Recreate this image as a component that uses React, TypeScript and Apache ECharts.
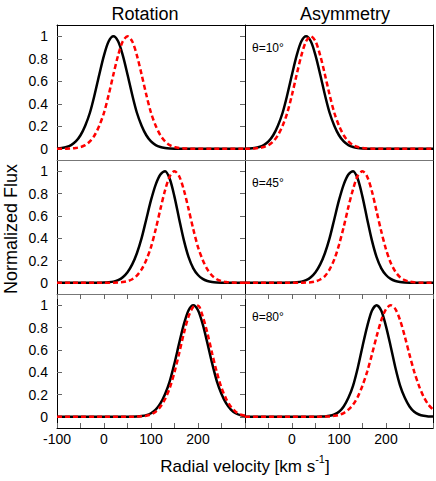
import React, { useEffect, useRef } from "react";
import * as echarts from "echarts";

// Shared velocity grid (km/s)
const velocities = [
  -100, -90, -80, -70, -60, -50, -40, -30, -20, -10, 0, 10, 20, 30, 40, 50, 60, 70, 80, 90,
  100, 110, 120, 130, 140, 150, 160, 170, 180, 190, 200, 210, 220, 230, 240, 250, 260, 270, 280, 290, 300,
];

const columnTitles = ["Rotation", "Asymmetry"];
const angleLabels = ["θ=10°", "θ=45°", "θ=80°"];
const xTickValues = [-100, -50, 0, 50, 100, 150, 200, 250, 300];
const xLabelsLeft = [-100, 0, 100, 200];
const xLabelsRight = [0, 100, 200];
const yTickValues = [0, 0.2, 0.4, 0.6, 0.8, 1];

// Row 1 (θ=10°)
const rot10Black = [
  0.003, 0.007, 0.015, 0.032, 0.065, 0.12, 0.205, 0.32, 0.48, 0.66, 0.83, 0.955, 1, 0.955, 0.83, 0.66, 0.48, 0.32, 0.205, 0.12,
  0.065, 0.032, 0.015, 0.007, 0.003, 0.001, 0, 0, 0, 0, 0, 0, 0, 0, 0, 0, 0, 0, 0, 0, 0,
];
const rot10Red = [
  0, 0, 0.001, 0.003, 0.007, 0.015, 0.032, 0.065, 0.12, 0.205, 0.32, 0.48, 0.66, 0.83, 0.955, 1, 0.955, 0.83, 0.66, 0.48,
  0.32, 0.205, 0.12, 0.065, 0.032, 0.015, 0.007, 0.003, 0.001, 0, 0, 0, 0, 0, 0, 0, 0, 0, 0, 0, 0,
];
const asym10Black = [
  0.001, 0.003, 0.007, 0.015, 0.032, 0.065, 0.12, 0.205, 0.32, 0.48, 0.66, 0.83, 0.955, 1, 0.955, 0.83, 0.66, 0.48, 0.32, 0.205,
  0.12, 0.065, 0.032, 0.015, 0.007, 0.003, 0.001, 0, 0, 0, 0, 0, 0, 0, 0, 0, 0, 0, 0, 0, 0,
];
const asym10Red = [
  0, 0.001, 0.003, 0.007, 0.015, 0.032, 0.065, 0.12, 0.205, 0.32, 0.48, 0.66, 0.83, 0.955, 1, 0.955, 0.83, 0.66, 0.48, 0.32,
  0.205, 0.12, 0.065, 0.032, 0.015, 0.007, 0.003, 0.001, 0, 0, 0, 0, 0, 0, 0, 0, 0, 0, 0, 0, 0,
];

// Row 2 (θ=45°)
const rot45Black = [
  0, 0, 0, 0, 0, 0, 0, 0, 0, 0.001, 0.002, 0.005, 0.011, 0.024, 0.05, 0.095, 0.165, 0.265, 0.4, 0.57,
  0.74, 0.88, 0.97, 1, 0.93, 0.77, 0.57, 0.38, 0.23, 0.13, 0.07, 0.035, 0.016, 0.007, 0.003, 0.001, 0, 0, 0, 0, 0,
];
const rot45Red = [
  0, 0, 0, 0, 0, 0, 0, 0, 0, 0, 0, 0, 0.001, 0.003, 0.007, 0.015, 0.032, 0.065, 0.12, 0.205,
  0.32, 0.48, 0.66, 0.83, 0.955, 1, 0.955, 0.83, 0.66, 0.48, 0.32, 0.205, 0.12, 0.065, 0.032, 0.015, 0.007, 0.003, 0.001, 0, 0,
];
const asym45Black = [
  0, 0, 0, 0, 0, 0, 0, 0, 0, 0.001, 0.002, 0.005, 0.011, 0.024, 0.05, 0.095, 0.165, 0.265, 0.4, 0.57,
  0.74, 0.88, 0.97, 1, 0.93, 0.77, 0.57, 0.38, 0.23, 0.13, 0.07, 0.035, 0.016, 0.007, 0.003, 0.001, 0, 0, 0, 0, 0,
];
const asym45Red = [
  0, 0, 0, 0, 0, 0, 0, 0, 0, 0, 0, 0, 0.001, 0.002, 0.005, 0.013, 0.03, 0.06, 0.12, 0.21,
  0.34, 0.5, 0.68, 0.84, 0.96, 1, 0.95, 0.82, 0.64, 0.46, 0.3, 0.18, 0.1, 0.05, 0.024, 0.011, 0.005, 0.002, 0.001, 0, 0,
];

// Row 3 (θ=80°)
const rot80Black = [
  0, 0, 0, 0, 0, 0, 0, 0, 0, 0, 0, 0, 0, 0, 0, 0, 0.001, 0.003, 0.007, 0.015,
  0.032, 0.065, 0.12, 0.205, 0.32, 0.48, 0.66, 0.83, 0.955, 1, 0.955, 0.83, 0.66, 0.48, 0.32, 0.205, 0.12, 0.065, 0.032, 0.015, 0.007,
];
const rot80Red = [
  0, 0, 0, 0, 0, 0, 0, 0, 0, 0, 0, 0, 0, 0, 0, 0, 0.001, 0.002, 0.005, 0.01,
  0.022, 0.046, 0.09, 0.16, 0.26, 0.4, 0.57, 0.75, 0.9, 0.985, 0.995, 0.9, 0.75, 0.57, 0.4, 0.26, 0.16, 0.09, 0.046, 0.022, 0.01,
];
const asym80Black = [
  0, 0, 0, 0, 0, 0, 0, 0, 0, 0, 0, 0, 0, 0, 0, 0, 0.002, 0.004, 0.009, 0.021,
  0.045, 0.093, 0.17, 0.28, 0.44, 0.63, 0.81, 0.95, 1, 0.95, 0.81, 0.63, 0.44, 0.28, 0.17, 0.093, 0.045, 0.021, 0.009, 0.004, 0.002,
];
const asym80Red = [
  0, 0, 0, 0, 0, 0, 0, 0, 0, 0, 0, 0, 0, 0, 0, 0, 0.001, 0.002, 0.004, 0.009,
  0.017, 0.034, 0.064, 0.11, 0.18, 0.28, 0.405, 0.557, 0.72, 0.865, 0.965, 1, 0.965, 0.865, 0.72, 0.557, 0.405, 0.28, 0.18, 0.11, 0.064,
];

const panelSeries = [
  [rot10Black, rot10Red],
  [asym10Black, asym10Red],
  [rot45Black, rot45Red],
  [asym45Black, asym45Red],
  [rot80Black, rot80Red],
  [asym80Black, asym80Red],
];

const FONT = '"Liberation Sans", Arial, Helvetica, sans-serif';

export default function App() {
  const ref = useRef<HTMLDivElement>(null);

  useEffect(() => {
    if (!ref.current) return;
    const chart = echarts.init(ref.current, undefined, { renderer: "svg" });

    const colLeft = [57, 245];
    const colWidth = 188;
    const rowTop = [25, 160, 294];
    const rowHeight = [135, 134, 134];
    const tickColor = "#666";
    const sepColor = "#777";

    const grids: any[] = [];
    const xAxes: any[] = [];
    const yAxes: any[] = [];
    const series: any[] = [];
    const graphics: any[] = [];

    for (let r = 0; r < 3; r++) {
      for (let c = 0; c < 2; c++) {
        const p = r * 2 + c;
        grids.push({ left: colLeft[c], top: rowTop[r], width: colWidth, height: rowHeight[r], containLabel: false });
        xAxes.push({
          type: "value",
          gridIndex: p,
          position: "bottom",
          min: -100,
          max: 300,
          axisLine: { show: true, onZero: false, lineStyle: { color: r === 2 ? "#000" : sepColor, width: 1 } },
          axisTick: { show: r === 2, inside: true, length: 5, customValues: xTickValues, lineStyle: { color: tickColor } },
          axisLabel: {
            show: r === 2,
            customValues: c === 0 ? xLabelsLeft : xLabelsRight,
            margin: 4,
            fontSize: 14,
            color: "#000",
            fontFamily: FONT,
          },
          splitLine: { show: false },
        });
        xAxes.push({
          type: "value",
          gridIndex: p,
          position: "top",
          min: -100,
          max: 300,
          axisLine: { show: r === 0, onZero: false, lineStyle: { color: "#000", width: 1 } },
          axisTick: { show: r === 2, inside: true, length: 5, customValues: xTickValues, lineStyle: { color: tickColor } },
          axisLabel: { show: false },
          splitLine: { show: false },
        });
        yAxes.push({
          type: "value",
          gridIndex: p,
          position: "left",
          min: -0.1,
          max: 1.1,
          axisLine: { show: true, onZero: false, lineStyle: { color: "#000", width: 1 } },
          axisTick: { show: c === 0, inside: true, length: 5, customValues: yTickValues, lineStyle: { color: tickColor } },
          axisLabel: {
            show: c === 0,
            customValues: yTickValues,
            margin: 9,
            fontSize: 14,
            color: "#000",
            fontFamily: FONT,
          },
          splitLine: { show: false },
        });
        yAxes.push({
          type: "value",
          gridIndex: p,
          position: "right",
          min: -0.1,
          max: 1.1,
          axisLine: { show: c === 1, onZero: false, lineStyle: { color: "#000", width: 1 } },
          axisTick: { show: c === 0, inside: true, length: 5, customValues: yTickValues, lineStyle: { color: tickColor } },
          axisLabel: { show: false },
          splitLine: { show: false },
        });

        const [blackVals, redVals] = panelSeries[p];
        series.push({
          type: "line",
          xAxisIndex: 2 * p,
          yAxisIndex: 2 * p,
          data: velocities.map((v, i) => [v, blackVals[i]]),
          symbol: "none",
          smooth: 0.3,
          silent: true,
          lineStyle: { color: "#000", width: 2.5 },
          z: 2,
        });
        series.push({
          type: "line",
          xAxisIndex: 2 * p,
          yAxisIndex: 2 * p,
          data: velocities.map((v, i) => [v, redVals[i]]),
          symbol: "none",
          smooth: 0.3,
          silent: true,
          lineStyle: { color: "#ff0000", width: 2.5, type: [5, 3] },
          z: 3,
        });

        if (c === 1) {
          graphics.push({
            type: "text",
            x: colLeft[1] + 7,
            y: rowTop[r] + 23,
            style: {
              text: angleLabels[r],
              fontSize: 12,
              fontFamily: FONT,
              fill: "#000",
              align: "left",
              verticalAlign: "middle",
            },
          });
        }
      }
    }

    const titleX = [145, 345];
    columnTitles.forEach((t, i) => {
      graphics.push({
        type: "text",
        x: titleX[i],
        y: 13.5,
        style: { text: t, fontSize: 18, fontFamily: FONT, fill: "#000", align: "center", verticalAlign: "middle" },
      });
    });

    graphics.push({
      type: "text",
      x: 11,
      y: 229,
      rotation: Math.PI / 2,
      style: {
        text: "Normalized Flux",
        fontSize: 18,
        fontFamily: FONT,
        fill: "#000",
        align: "center",
        verticalAlign: "middle",
      },
    });

    graphics.push({
      type: "text",
      x: 245,
      y: 464,
      style: {
        text: "{a|Radial velocity [km s}{b|-1}{a|]}",
        fill: "#000",
        align: "center",
        verticalAlign: "middle",
        rich: {
          a: { fontSize: 17, fontFamily: FONT, fill: "#000", lineHeight: 22, verticalAlign: "bottom" },
          b: { fontSize: 11, fontFamily: FONT, fill: "#000", lineHeight: 12, verticalAlign: "top" },
        },
      },
    });

    chart.setOption({
      animation: false,
      backgroundColor: "#fff",
      grid: grids,
      xAxis: xAxes,
      yAxis: yAxes,
      series,
      graphic: graphics,
    });

    return () => {
      chart.dispose();
    };
  }, []);

  return (
    <div
      ref={ref}
      style={{ position: "absolute", left: 0, top: 0, width: 436, height: 481, background: "#fff" }}
    />
  );
}
